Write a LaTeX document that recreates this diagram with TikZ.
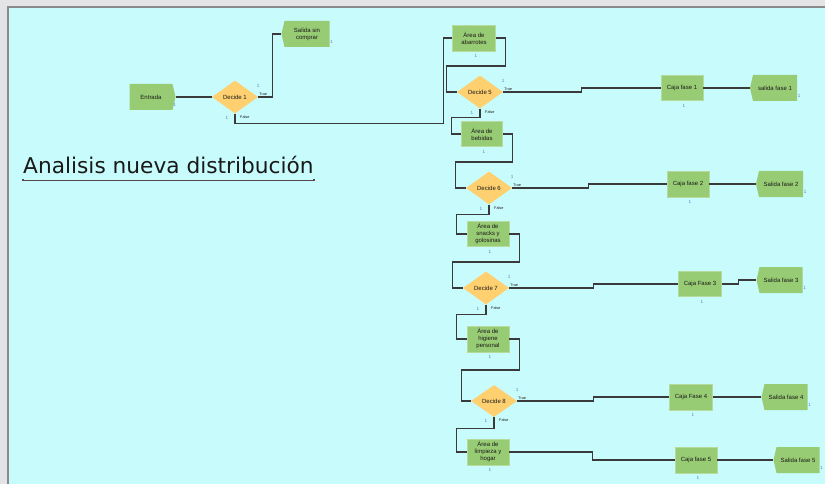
\documentclass[tikz,border=0pt]{standalone}
\usepackage{fontspec}
\setmainfont{Liberation Sans}
\newfontfamily\titlefont{DejaVu Sans}
\usetikzlibrary{shapes.geometric,shapes.symbols}
\definecolor{canvas}{RGB}{200,252,252}
\definecolor{frame}{RGB}{138,138,138}
\definecolor{outside}{RGB}{228,228,230}
\definecolor{procfill}{RGB}{152,204,116}
\definecolor{decfill}{RGB}{255,208,112}
\definecolor{wire}{RGB}{58,58,58}
\definecolor{numblue}{RGB}{100,120,190}
\definecolor{ink}{RGB}{25,25,25}
\definecolor{ulcol}{RGB}{90,72,72}
\tikzset{
  proc/.style={draw=procfill!70!white,fill=procfill,minimum width=42pt,minimum height=25pt,
    inner sep=0pt,font=\fontsize{6}{7}\selectfont,align=center,text=ink},
  dec/.style={diamond,fill=decfill,minimum width=46pt,minimum height=33pt,inner sep=0pt,
    font=\fontsize{6}{7}\selectfont,text=ink},
  crt/.style={signal,signal to=east,signal pointer angle=154,fill=procfill,
    minimum width=46pt,minimum height=26pt,inner sep=0pt,font=\fontsize{6}{7}\selectfont,
    align=center,text=ink},
  dsp/.style={signal,signal to=west,signal pointer angle=154,fill=procfill,
    minimum width=47pt,minimum height=26pt,inner sep=0pt,font=\fontsize{6}{7}\selectfont,
    align=center,text=ink},
  conn/.style={draw=wire,line width=1.35pt},
  num/.style={font=\fontsize{4.6}{5}\selectfont,text=numblue,inner sep=0pt},
  cond/.style={font=\fontsize{3.8}{4}\selectfont,text=ink,inner sep=0pt},
}

\begin{document}
\begin{tikzpicture}[x=1pt,y=-1pt]
  % window and model canvas
  \useasboundingbox (0,0) rectangle (825,484);
  \fill[outside] (0,0) rectangle (825,484);
  \filldraw[fill=canvas,draw=frame,line width=2pt] (8,7) rectangle (830,490);

  \node[anchor=base west,inner sep=0pt,text=ink,font=\titlefont\fontsize{21.7}{24}\selectfont]
    (title) at (23,174) {Analisis nueva distribución};
  \coordinate (ul1) at ([yshift=-6pt]title.base west);
  \coordinate (ul2) at ([yshift=-6pt]title.base east);
  \draw[ulcol,line width=0.8pt] (ul1) -- (ul2);
  \fill[ulcol] (ul1) ++(-1.3,-1.3) rectangle ++(2.6,2.6);
  \fill[ulcol] (ul2) ++(-1.3,-1.3) rectangle ++(2.6,2.6);

  % entry and first decision
  \node[crt] (entrada) at (151,97) {Entrada};
  \node[dec] (d1) at (235,97) {Decide 1};
  \node[dsp,minimum width=48pt] (salsin) at (307,34) {Salida sin\\comprar};

  % areas along the route
  \node[proc,minimum width=43pt,minimum height=26pt] (abarr) at (474,38) {Área de\\abarrotes};
  \node[dec] (d5) at (480,92) {Decide 5};
  \node[proc,minimum width=41pt] (bebidas) at (482,134) {Área de\\bebidas};
  \node[dec] (d6) at (489,188) {Decide 6};
  \node[proc] (snacks) at (488,234) {Área de\\snacks y\\golosinas};
  \node[dec] (d7) at (486,288) {Decide 7};
  \node[proc,minimum height=26pt] (higiene) at (488,339) {Área de\\higiene\\personal};
  \node[dec,minimum height=32pt] (d8) at (494,401) {Decide 8};
  \node[proc,minimum height=26pt] (limpieza) at (488,452) {Área de\\limpieza y\\hogar};

  % checkouts and exits
  \node[proc] (caja1) at (682,88) {Caja fase 1};
  \node[dsp] (sal1) at (775,88) {salida fase 1};
  \node[proc,minimum height=26pt] (caja2) at (688,184) {Caja fase 2};
  \node[dsp] (sal2) at (781,184) {Salida fase 2};
  \node[proc,minimum width=43pt] (caja3) at (700,284) {Caja Fase 3};
  \node[dsp,minimum width=46pt] (sal3) at (781,280) {Salida fase 3};
  \node[proc,minimum width=43pt,minimum height=26pt] (caja4) at (691,397) {Caja Fase 4};
  \node[dsp,minimum width=46pt] (sal4) at (786,397) {Salida fase 4};
  \node[proc,minimum height=26pt] (caja5) at (696,460) {Caja fase 5};
  \node[dsp,minimum width=46pt] (sal5) at (798,460) {Salida fase 5};

  % connectors
  \draw[conn] (entrada.east) -- (d1.west);
  \draw[conn] (d1.east) -- ++(14,0) |- (salsin.west);
  \draw[conn] (d1.south) -- ++(0,10) -| ([xshift=-9pt]abarr.west) -- (abarr.west);

  \draw[conn] (abarr.east) -- ++(10,0) -- ++(0,28) -| ([xshift=-10pt]d5.west) -- (d5.west);
  \draw[conn] (d5.south) -- ++(0,9) -| ([xshift=-10pt]bebidas.west) -- (bebidas.west);
  \draw[conn] (bebidas.east) -- ++(10,0) -- ++(0,28) -| ([xshift=-10pt]d6.west) -- (d6.west);
  \draw[conn] (d6.south) -- ++(0,10) -| ([xshift=-10pt]snacks.west) -- (snacks.west);
  \draw[conn] (snacks.east) -- ++(10,0) -- ++(0,28) -| ([xshift=-10pt]d7.west) -- (d7.west);
  \draw[conn] (d7.south) -- ++(0,10) -| ([xshift=-10pt]higiene.west) -- (higiene.west);
  \draw[conn] (higiene.east) -- ++(10,0) -- ++(0,31) -| ([xshift=-9pt]d8.west) -- (d8.west);
  \draw[conn] (d8.south) -- ++(0,11) -| ([xshift=-10pt]limpieza.west) -- (limpieza.west);

  \draw[conn] (d5.east) -| ([xshift=-79pt]caja1.west) -- (caja1.west);
  \draw[conn] (d6.east) -| ([xshift=-78pt]caja2.west) -- (caja2.west);
  \draw[conn] (d7.east) -| ([xshift=-85pt]caja3.west) -- (caja3.west);
  \draw[conn] (d8.east) -| ([xshift=-76pt]caja4.west) -- (caja4.west);
  \draw[conn] (limpieza.east) -| ([xshift=-82pt]caja5.west) -- (caja5.west);

  \draw[conn] (caja1.east) -- (sal1.west);
  \draw[conn] (caja2.east) -- (sal2.west);
  \draw[conn] (caja3.east) -| ([xshift=-18pt]sal3.west) -- (sal3.west);
  \draw[conn] (caja4.east) -- (sal4.west);
  \draw[conn] (caja5.east) -- (sal5.west);

  % branch tags and counters
  \foreach \d in {d1,d5,d6,d7,d8} {
    \node[cond,anchor=west] at ([xshift=1pt,yshift=2.5pt]\d.east) {True};
    \node[cond,anchor=west] at ([xshift=5pt,yshift=-3pt]\d.south) {False};
    \node[num] at ([yshift=11pt]\d.east) {1};
    \node[num] at ([xshift=-8pt,yshift=-4pt]\d.south) {1};
  }
  \foreach \b in {abarr,bebidas,snacks,higiene,limpieza,caja1,caja2,caja3,caja4,caja5}
    \node[num] at ([xshift=2pt,yshift=-5pt]\b.south) {1};
  \foreach \b in {entrada,salsin,sal1,sal2,sal3,sal4,sal5}
    \node[num] at ([xshift=2pt,yshift=5pt]\b.south east) {1};
\end{tikzpicture}
\end{document}
